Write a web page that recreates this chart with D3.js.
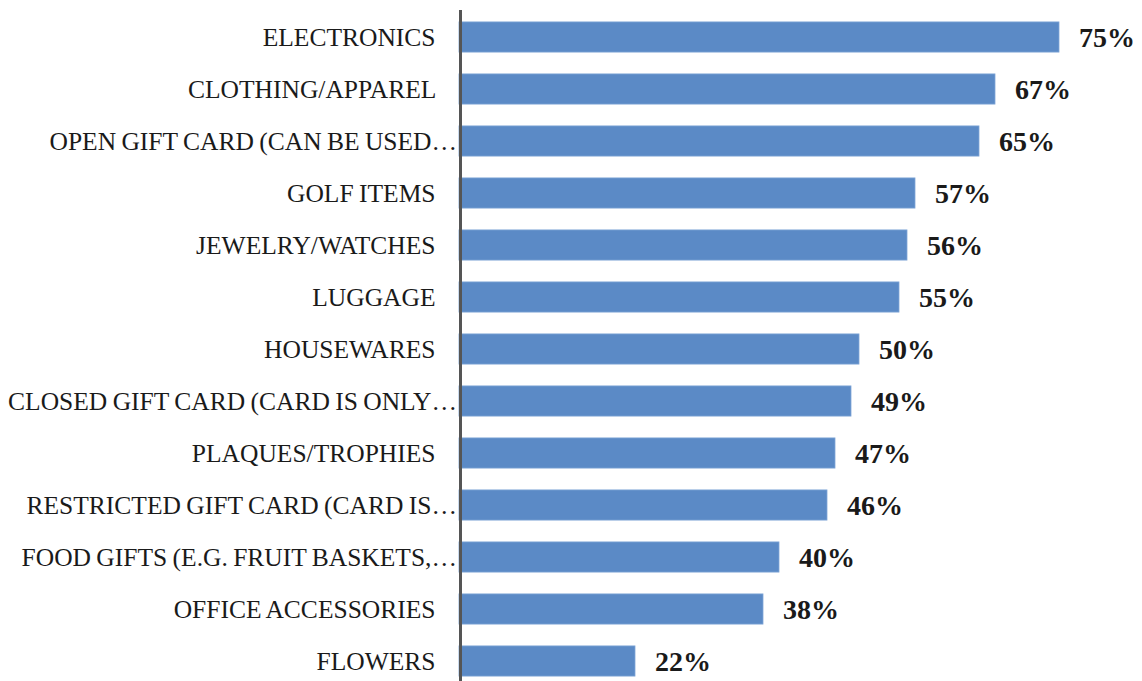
<!DOCTYPE html>
<html><head><meta charset="utf-8">
<script src="https://cdn.jsdelivr.net/npm/d3@7"></script>
<style>
html,body{margin:0;padding:0;background:#fff;}
svg{display:block;}
text{white-space:pre;}
</style></head>
<body>
<svg id="chart" width="1142" height="681"></svg>
<script>
const categories = [
  "ELECTRONICS    ",
  "CLOTHING/APPAREL    ",
  "OPEN GIFT CARD (CAN BE USED…",
  "GOLF ITEMS    ",
  "JEWELRY/WATCHES    ",
  "LUGGAGE    ",
  "HOUSEWARES    ",
  "CLOSED GIFT CARD (CARD IS ONLY…",
  "PLAQUES/TROPHIES    ",
  "RESTRICTED GIFT CARD (CARD IS…",
  "FOOD GIFTS (E.G. FRUIT BASKETS,…",
  "OFFICE ACCESSORIES    ",
  "FLOWERS    "
];
const values = [75, 67, 65, 57, 56, 55, 50, 49, 47, 46, 40, 38, 22];
const valueLabels = ["75%","67%","65%","57%","56%","55%","50%","49%","47%","46%","40%","38%","22%"];

const svg = d3.select("#chart");
const x = d3.scaleLinear().domain([0, 75]).range([459, 1059]);
const y = d3.scaleBand().domain(categories).range([11, 687]).paddingInner(0.42).paddingOuter(0.21);

const data = categories.map((c, i) => ({c, v: values[i], l: valueLabels[i]}));

svg.append("g").selectAll("rect").data(data).join("rect")
  .attr("x", x(0))
  .attr("y", d => y(d.c))
  .attr("width", d => x(d.v) - x(0))
  .attr("height", y.bandwidth())
  .attr("fill", "#5B8AC6")
  .attr("stroke", "#7fa6d6")
  .attr("stroke-width", 0.8);

svg.append("line")
  .attr("x1", x(0) + 1.5).attr("x2", x(0) + 1.5)
  .attr("y1", 10).attr("y2", 681)
  .attr("stroke", "#555").attr("stroke-width", 3);

svg.append("g").selectAll("text").data(data).join("text")
  .attr("x", x(0) - 2)
  .attr("y", d => y(d.c) + y.bandwidth() / 2 + 9)
  .attr("text-anchor", "end")
  .attr("font-family", "Liberation Serif, serif")
  .attr("font-size", 25.5)
  .attr("word-spacing", -1)
  .attr("fill", "#1a1a1a")
  .text(d => d.c);

svg.append("g").selectAll("text").data(data).join("text")
  .attr("x", d => x(d.v) + 20)
  .attr("y", d => y(d.c) + y.bandwidth() / 2 + 10)
  .attr("font-family", "Liberation Serif, serif")
  .attr("font-weight", "bold")
  .attr("font-size", 28)
  .attr("fill", "#1a1a1a")
  .text(d => d.l);
</script>
</body></html>
